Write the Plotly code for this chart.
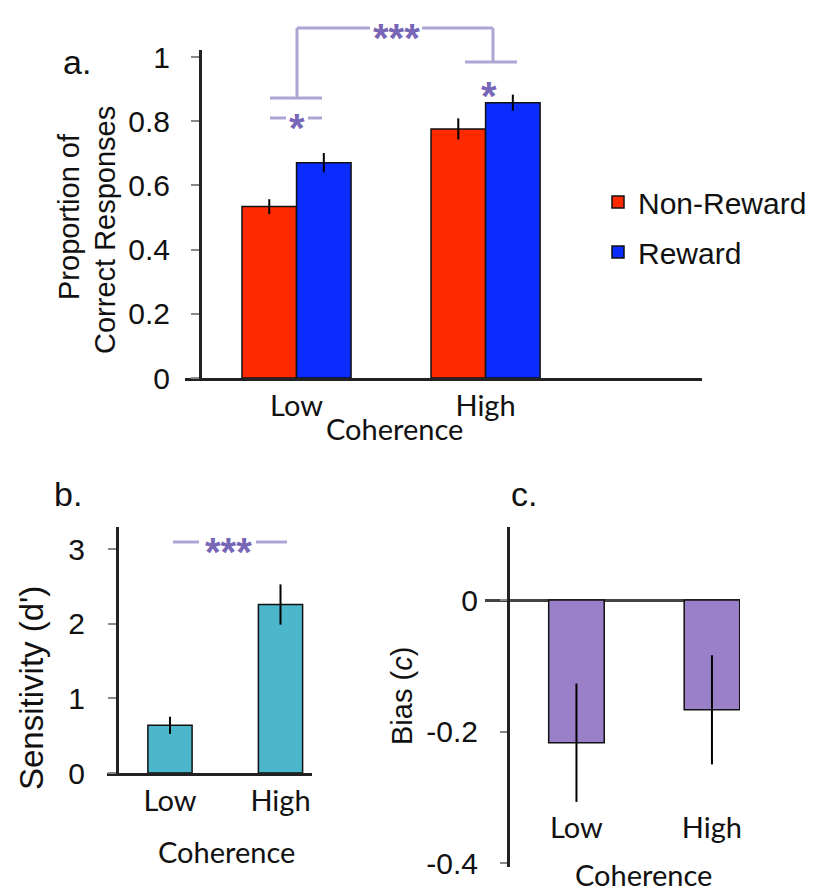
import plotly.graph_objects as go

W, H = 819, 891
def X(px): return px / W
def Y(py): return 1 - py / H

# ---------------- data ----------------
categories = ["Low", "High"]
nonreward = [0.534, 0.776]
nonreward_err = [0.023, 0.033]
reward = [0.671, 0.858]
reward_err = [0.030, 0.025]

sensitivity = [0.64, 2.26]
sensitivity_err = [0.115, 0.27]

bias = [-0.217, -0.167]
bias_err = [0.09, 0.083]

a_ticks = [0, 0.2, 0.4, 0.6, 0.8, 1]
a_ticktext = ["0", "0.2", "0.4", "0.6", "0.8", "1"]
b_ticks = [0, 1, 2, 3]
b_ticktext = ["0", "1", "2", "3"]
c_ticks = [0, -0.2, -0.4]
c_ticktext = ["0", "-0.2", "-0.4"]

RED = "#ff2a00"
BLUE = "#0a2cff"
TEAL = "#4cb6cb"
PURPLE = "#9a80c8"
SIGLINE = "#aca6d4"
SIGSTAR = "#7767b6"
AXIS = "#222222"

NUMFONT = "Liberation Sans"
CATFONT = "Lato"

fig = go.Figure()

err = dict(type="data", color="black", thickness=2, width=0)
outline = dict(color="#111", width=1.5)

# panel a
fig.add_trace(go.Bar(x=categories, y=nonreward, name="Non-Reward",
                     marker=dict(color=RED, line=outline),
                     error_y=dict(array=nonreward_err, **err),
                     width=0.2885, offset=-0.2885, xaxis="x", yaxis="y",
                     legendgroup="g1"))
fig.add_trace(go.Bar(x=categories, y=reward, name="Reward",
                     marker=dict(color=BLUE, line=outline),
                     error_y=dict(array=reward_err, **err),
                     width=0.2885, offset=0, xaxis="x", yaxis="y",
                     legendgroup="g2"))
# panel b
fig.add_trace(go.Bar(x=categories, y=sensitivity, showlegend=False,
                     marker=dict(color=TEAL, line=outline),
                     error_y=dict(array=sensitivity_err, **err),
                     width=0.40, xaxis="x2", yaxis="y2"))
# panel c
fig.add_trace(go.Bar(x=categories, y=bias, showlegend=False,
                     marker=dict(color=PURPLE, line=outline),
                     error_y=dict(array=bias_err, **err),
                     width=0.41, xaxis="x3", yaxis="y3"))

numtick = dict(family=NUMFONT, size=30, color="#111")
cattick = dict(family=CATFONT, size=29, color="#111")

common_y = dict(showline=True, linecolor=AXIS, linewidth=3, ticks="outside",
                tickwidth=1.5, tickcolor="#888", tickfont=numtick,
                showgrid=False, automargin=False, anchor="free")
common_x = dict(ticks="", tickfont=cattick, showgrid=False, zeroline=False,
                automargin=False)

fig.update_layout(
    template="none",
    width=W, height=H,
    autosize=False,
    margin=dict(l=0, r=0, t=0, b=0, pad=0),
    paper_bgcolor="white", plot_bgcolor="rgba(0,0,0,0)",
    barmode="overlay",
    showlegend=True,
    legend=dict(x=X(598), y=Y(176), xanchor="left", yanchor="top",
                font=dict(family=NUMFONT, size=30, color="#111"),
                tracegroupgap=8, bgcolor="rgba(0,0,0,0)", borderwidth=0),
    xaxis=dict(domain=[X(185), X(702)], range=[-0.59, 2.145], anchor="y",
               showline=True, linecolor=AXIS, linewidth=3, **common_x),
    yaxis=dict(domain=[Y(378), Y(50)], range=[0, 1.022], position=X(200),
               ticklen=8, ticklabelstandoff=15, zeroline=False,
               tickvals=a_ticks, ticktext=a_ticktext, **common_y),
    xaxis2=dict(domain=[X(107), X(312)], range=[-0.57, 1.285], anchor="y2",
                showline=True, linecolor=AXIS, linewidth=3, **common_x),
    yaxis2=dict(domain=[Y(773), Y(527)], range=[0, 3.3], position=X(117),
                ticklen=8, ticklabelstandoff=17, zeroline=False,
                tickvals=b_ticks, ticktext=b_ticktext, **common_y),
    xaxis3=dict(domain=[X(485), X(740)], range=[-0.675, 1.207], anchor="free",
                position=Y(808), showline=False, **common_x),
    yaxis3=dict(domain=[Y(867), Y(527)], range=[-0.406, 0.111], position=X(508),
                ticklen=7, ticklabelstandoff=16,
                tickvals=c_ticks, ticktext=c_ticktext,
                zeroline=True, zerolinecolor="#444", zerolinewidth=2.5,
                **common_y),
)

ann = []
def text(x, y, s, size=30, family=NUMFONT, color="#111", angle=0, ys=0):
    ann.append(dict(x=X(x), y=Y(y), xref="paper", yref="paper", text=s,
                    showarrow=False, xanchor="center", yanchor="middle",
                    textangle=angle, yshift=ys,
                    font=dict(family=family, size=size, color=color)))

# panel labels
text(77, 62, "a.", size=34)
text(68, 494, "b.", size=34)
text(524, 494, "c.", size=34)

# axis titles
text(69, 217, "Proportion of", size=29, angle=-90)
text(105, 230, "Correct Responses", size=29, angle=-90)
text(31, 688, "Sensitivity (d')", size=33, angle=-90)
text(402, 696, "Bias (<i>c</i>)", size=29, angle=-90)
text(394, 428, "Coherence", size=29, family=CATFONT)
text(226, 851, "Coherence", size=29, family=CATFONT)
text(643, 874, "Coherence", size=29, family=CATFONT)

# significance markers
shapes = []
def seg(x0, y0, x1, y1):
    shapes.append(dict(type="line", xref="paper", yref="paper",
                       x0=X(x0), y0=Y(y0), x1=X(x1), y1=Y(y1),
                       line=dict(color=SIGLINE, width=3)))
seg(270, 98, 322, 98)
seg(270, 118, 286, 118)
seg(308, 118, 322, 118)
seg(297, 98, 297, 28)
seg(297, 28, 370, 28)
seg(422, 28, 493, 28)
seg(493, 28, 493, 62)
seg(465, 62, 517, 62)
seg(173, 542, 199, 542)
seg(256, 542, 287, 542)

text(297, 118, "<b>*</b>", size=40, color=SIGSTAR, ys=-10)
text(396, 28, "<b>***</b>", size=40, color=SIGSTAR, ys=-10)
text(489, 86, "<b>*</b>", size=40, color=SIGSTAR, ys=-10)
text(228, 542, "<b>***</b>", size=40, color=SIGSTAR, ys=-10)

fig.update_layout(annotations=ann, shapes=shapes)

fig.write_html("out.html",
               config={"displayModeBar": False},
               post_script="document.body.style.margin='0px';"
                           "document.body.style.padding='0px';")
